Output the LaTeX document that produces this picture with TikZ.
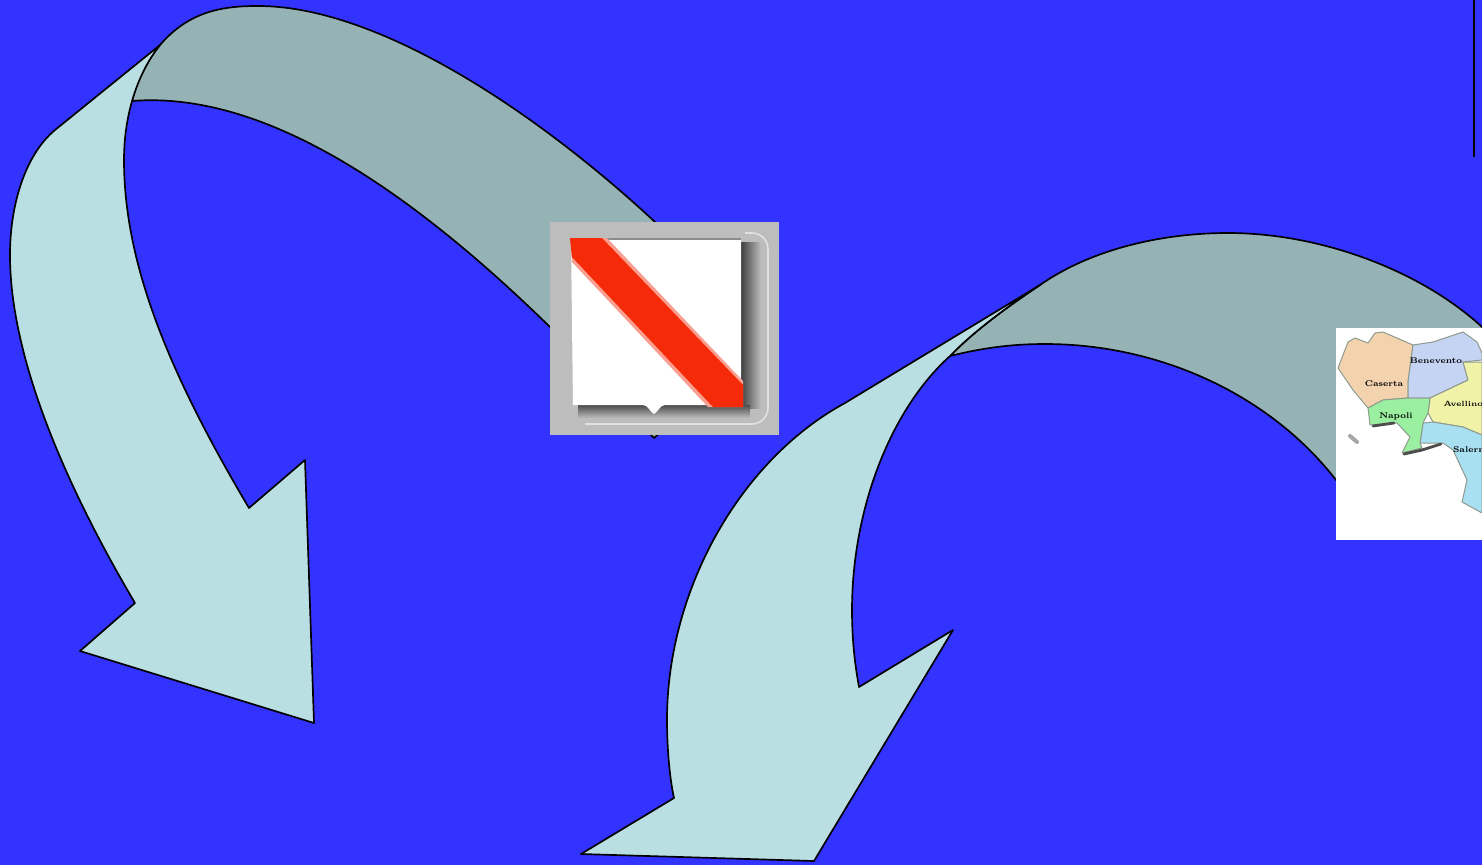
\documentclass[tikz,border=0pt]{standalone}
\usepackage{tikz}
\definecolor{ink}{gray}{0.0}
\definecolor{sky}{HTML}{3333FF}
\definecolor{pale}{HTML}{B9DFE3}
\definecolor{slate}{HTML}{95B2B5}
\definecolor{frame}{HTML}{BDBDBD}
\definecolor{stripe}{HTML}{F52A08}
\definecolor{tancol}{HTML}{F3D3AE}
\definecolor{lilac}{HTML}{C6D4F4}
\definecolor{butter}{HTML}{F0F2A8}
\definecolor{mint}{HTML}{9BEFA0}
\definecolor{aqua}{HTML}{A8E0F2}
\definecolor{edge}{HTML}{8E9A8E}
\begin{document}
\begin{tikzpicture}[x=0.25mm,y=-0.25mm,
  every node/.style={inner sep=0pt,outer sep=0pt,text=ink},
  band/.style={draw=ink,fill=slate,line width=0.42mm,line join=round},
  bow/.style={draw=ink,fill=pale,line width=0.42mm,line join=round},
  zone/.style={draw=edge,line width=0.25mm,line join=round},
  shore/.style={draw=ink!70,line width=0.7mm,line cap=round},
  halo/.style={draw=white!55!frame,line width=0.4mm,rounded corners=4mm},
  tw/.style={font=\bfseries\fontsize{5.9}{7}\selectfont}]

\useasboundingbox (0,0) rectangle (1482,865);
\clip (0,0) rectangle (1482,865);
\fill[sky] (0,0) rectangle (1482,865);

% ---- first arrow ----------------------------------------------------------
\draw[band] (160,45) .. controls (190,10) and (225,6) .. (258,6)
  .. controls (380,6) and (540,115) .. (655,222) -- (770,335) -- (654,438) -- (550,327)
  .. controls (420,200) and (270,90) .. (132,101)
  .. controls (137,80) and (147,61) .. (160,45) -- cycle;
\draw[bow] (160,45) -- (55,130) .. controls (25,155) and (10,205) .. (10,255)
  .. controls (10,370) and (80,510) .. (135,603) -- (80,651) -- (314,723) -- (305,460) -- (249,508)
  .. controls (170,375) and (124,265) .. (124,160)
  .. controls (124,110) and (140,70) .. (160,45) -- cycle;

% ---- second arrow ---------------------------------------------------------
\draw[band] (1040,285) .. controls (1090,250) and (1160,233) .. (1228,233)
  .. controls (1320,233) and (1420,270) .. (1482,327) -- (1560,400) -- (1482,500) -- (1336,480)
  .. controls (1270,395) and (1160,344) .. (1045,344)
  .. controls (1020,344) and (990,346) .. (950,356)
  .. controls (975,330) and (1010,305) .. (1040,285) -- cycle;
\draw[bow] (1040,285) -- (845,403) .. controls (740,460) and (667,590) .. (667,720)
  .. controls (667,750) and (670,780) .. (674,798) -- (581,854) -- (814,861) -- (953,630) -- (859,687)
  .. controls (854,660) and (852,635) .. (852,610)
  .. controls (852,510) and (890,410) .. (950,356)
  .. controls (975,330) and (1010,305) .. (1040,285) -- cycle;

% ---- rule, top right ------------------------------------------------------
\draw[ink,line width=0.42mm] (1474,0) -- (1474,157);

% ---- shield ---------------------------------------------------------------
\fill[frame] (550,222) rectangle (779,435);
\draw[halo] (745,233) -- (768,233) -- (768,424) -- (585,424);
\shade[left color=ink!75,right color=frame] (741,242) rectangle (761,408);
\shade[top color=ink!70,bottom color=frame] (578,405) rectangle (750,418);
\draw[ink!45,line width=0.3mm] (571,239) -- (741,239);
\draw[ink!25,line width=0.4mm] (571,240) -- (574,405);
\fill[white] (571,240) -- (741,240) -- (741,405) -- (665,405)
  .. controls (660,405) and (658,412) .. (654,414)
  .. controls (650,412) and (648,405) .. (643,405) -- (573,405) -- cycle;
\fill[stripe!45!white] (570,238) -- (607,238) -- (743,381) -- (743,407) -- (708,407) -- (572,262) -- cycle;
\fill[stripe] (570,238) -- (602,238) -- (743,385) -- (743,407) -- (713,407) -- (572,257) -- cycle;

% ---- map ------------------------------------------------------------------
\fill[white] (1336,328) rectangle (1482,540);
\draw[zone,fill=tancol] (1338,368) -- (1348,342) -- (1355,338) -- (1368,343) -- (1375,333) -- (1383,332)
  -- (1413,345) -- (1408,382) -- (1408,398) -- (1383,400) -- (1368,408) -- (1353,390) -- cycle;
\draw[zone,fill=lilac] (1413,345) -- (1433,342) -- (1463,332) -- (1477,342) -- (1482,353) -- (1482,360)
  -- (1463,362) -- (1468,380) -- (1430,398) -- (1408,398) -- (1408,382) -- cycle;
\draw[zone,fill=butter] (1463,362) -- (1482,362) -- (1482,435) -- (1463,427) -- (1433,422) -- (1428,413)
  -- (1430,398) -- (1468,380) -- cycle;
\draw[zone,fill=aqua] (1433,422) -- (1463,427) -- (1482,435) -- (1482,513) -- (1462,502) -- (1467,480)
  -- (1453,450) -- (1443,443) -- (1420,443) -- (1423,423) -- cycle;
\draw[zone,fill=mint] (1368,408) -- (1383,400) -- (1408,398) -- (1430,398) -- (1428,413) -- (1423,423)
  -- (1420,443) -- (1422,448) -- (1402,453) -- (1410,437) -- (1397,423) -- (1370,425) -- cycle;
\draw[shore] (1373,426) -- (1394,423);
\draw[shore] (1404,454) -- (1422,450) -- (1441,444);
\draw[shore,ink!35,line width=1mm] (1350,436) -- (1357,442);

\node[tw] (caserta) at (1384,384) {Caserta};
\node[tw] (benevento) at (1436,361) {Benevento};
\node[tw,anchor=west,font=\bfseries\fontsize{5.3}{7}\selectfont] (avellino) at (1443.5,404) {Avellino};
\node[tw] (napoli) at (1396,416) {Napoli};
\node[tw,anchor=west] (salerno) at (1453,450) {Salerno};
\end{tikzpicture}
\end{document}
